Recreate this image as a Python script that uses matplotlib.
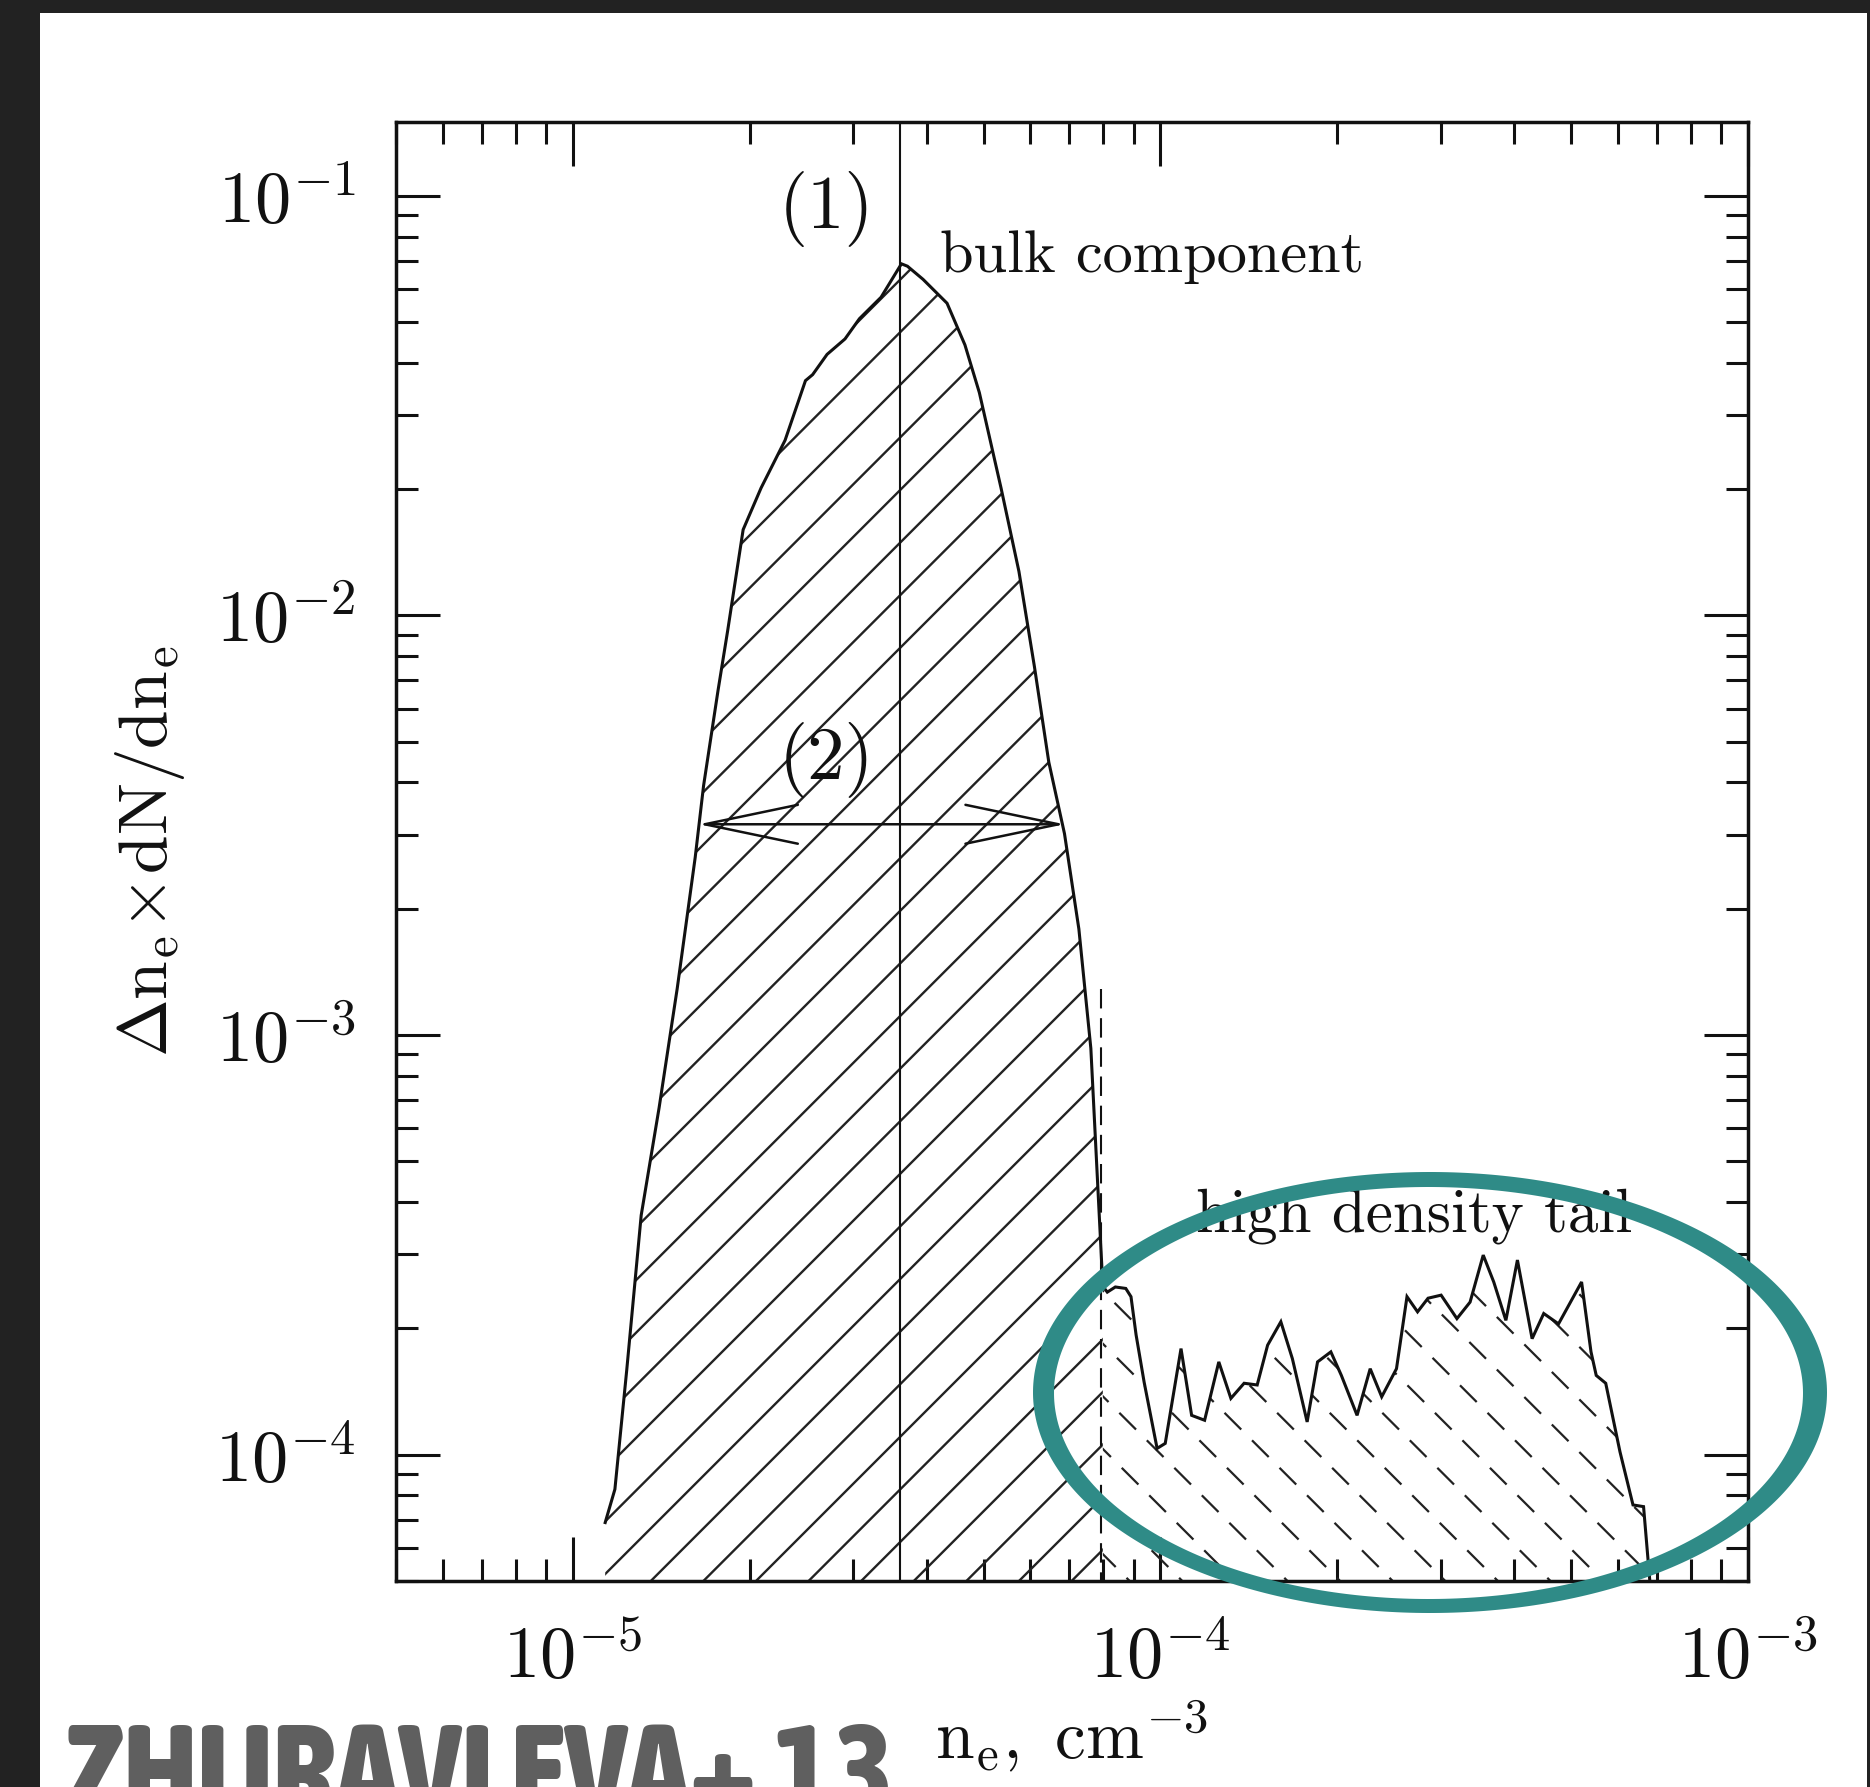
import numpy as np
import matplotlib
matplotlib.use('Agg')
import matplotlib.pyplot as plt
from matplotlib import ticker, font_manager
from matplotlib.lines import Line2D
from matplotlib.patches import Polygon, Rectangle, PathPatch
from matplotlib.path import Path
from matplotlib.transforms import IdentityTransform

plt.rcParams['mathtext.fontset'] = 'cm'
plt.rcParams['lines.scale_dashes'] = False

# bulk component of the electron density PDF
bulk_ne = [1.135e-5, 1.179e-5, 1.235e-5, 1.307e-5, 1.402e-5, 1.505e-5, 1.615e-5,
           1.669e-5, 1.766e-5, 1.834e-5, 1.949e-5, 2.091e-5, 2.297e-5, 2.488e-5,
           2.559e-5, 2.708e-5, 2.905e-5, 3.074e-5, 3.346e-5, 3.624e-5, 3.710e-5,
           3.944e-5, 4.333e-5, 4.648e-5, 4.918e-5, 5.354e-5, 5.743e-5, 6.103e-5,
           6.457e-5, 6.866e-5, 7.264e-5, 7.613e-5, 7.979e-5]
bulk_pdf = [6.89e-5, 8.27e-5, 1.591e-4, 3.72e-4, 6.71e-4, 1.29e-3, 2.65e-3,
            3.93e-3, 6.62e-3, 9.19e-3, 0.01602, 0.02014, 0.02616, 0.03628,
            0.0375, 0.04191, 0.04561, 0.05097, 0.05734, 0.06888, 0.06799,
            0.06326, 0.05549, 0.04414, 0.03398, 0.02014, 0.01274, 7.55e-3,
            4.47e-3, 3.02e-3, 1.79e-3, 9.30e-4, 2.52e-4]

# high density tail
tail_ne = [8.12e-5, 8.38e-5, 8.73e-5, 8.91e-5, 9.09e-5, 9.38e-5, 9.87e-5,
           1.019e-4, 1.084e-4, 1.130e-4, 1.189e-4, 1.257e-4, 1.318e-4, 1.388e-4,
           1.461e-4, 1.522e-4, 1.603e-4, 1.677e-4, 1.777e-4, 1.851e-4, 1.950e-4,
           2.032e-4, 2.161e-4, 2.275e-4, 2.380e-4, 2.522e-4, 2.628e-4, 2.739e-4,
           2.854e-4, 3.004e-4, 3.196e-4, 3.365e-4, 3.543e-4, 3.692e-4, 3.872e-4,
           4.051e-4, 4.291e-4, 4.491e-4, 4.759e-4, 5.209e-4, 5.405e-4, 5.517e-4,
           5.726e-4, 6.055e-4, 6.372e-4, 6.641e-4, 6.85e-4]
tail_pdf = [2.44e-4, 2.51e-4, 2.49e-4, 2.38e-4, 1.93e-4, 1.49e-4, 1.035e-4,
            1.064e-4, 1.79e-4, 1.241e-4, 1.208e-4, 1.664e-4, 1.362e-4, 1.48e-4,
            1.466e-4, 1.824e-4, 2.074e-4, 1.694e-4, 1.197e-4, 1.664e-4, 1.758e-4,
            1.545e-4, 1.241e-4, 1.603e-4, 1.374e-4, 1.603e-4, 2.38e-4, 2.19e-4,
            2.36e-4, 2.40e-4, 2.11e-4, 2.31e-4, 2.99e-4, 2.58e-4, 2.09e-4,
            2.91e-4, 1.89e-4, 2.17e-4, 2.05e-4, 2.58e-4, 1.758e-4, 1.545e-4,
            1.48e-4, 1.016e-4, 7.59e-5, 7.52e-5, 4.5e-5]

peak_ne = 3.6e-5                   # (1) bulk peak
fwhm_lo, fwhm_hi = 1.637e-5, 6.87e-5  # (2) width of the bulk
fwhm_level = 3.18e-3
cut_ne = 7.91e-5                   # bulk / tail separation
cut_top = 1.29e-3

xmin, xmax = 5e-6, 1e-3
ymin, ymax = 5e-5, 0.15

W, H = 1870, 1787
fig = plt.figure(figsize=(W / 100, H / 100), dpi=100)
fig.patch.set_facecolor('#222222')
fig.add_artist(Rectangle((40 / W, 0), (1867 - 40) / W, (H - 13) / H,
                         transform=fig.transFigure, facecolor='white',
                         edgecolor='none', zorder=-10))

ax = fig.add_axes([396 / W, (H - 1581) / H, (1748 - 396) / W, (1581 - 122) / H])
ax.set_facecolor('white')
ax.set_xscale('log')
ax.set_yscale('log')
ax.set_xlim(xmin, xmax)
ax.set_ylim(ymin, ymax)


def hatch(xs, ys, slope, spacing, phase, **kw):
    """draw parallel lines (45 deg, in pixels) clipped to the polygon xs, ys"""
    patch = Polygon(np.column_stack([xs, ys]), closed=True, fill=False,
                    edgecolor='none', transform=ax.transData)
    ax.add_patch(patch)
    n = int((W + H) / spacing) + 2
    for k in range(-n, n + 1):
        c = phase + k * spacing
        if slope > 0:
            px, py = [c, c + H], [0, H]
        else:
            px, py = [c, c - H], [0, H]
        ln = Line2D(px, py, transform=IdentityTransform(), **kw)
        ln.set_clip_path(patch)
        ax.add_artist(ln)


bx = list(bulk_ne) + [bulk_ne[-1], bulk_ne[0]]
by = list(bulk_pdf) + [ymin, ymin]
hatch(bx, by, +1, 52.6, 24, color='#222222', lw=1.7)

tx = [bulk_ne[-1]] + list(tail_ne) + [tail_ne[-1], bulk_ne[-1]]
ty = [bulk_pdf[-1]] + list(tail_pdf) + [ymin, ymin]
hatch(tx, ty, -1, 52.6, 20.7, color='#222222', lw=1.6, ls=(0, (17, 11)))

ax.plot(bulk_ne + tail_ne, bulk_pdf + tail_pdf, color='#111111', lw=2.2,
        solid_joinstyle='miter', zorder=3)
ax.axvline(peak_ne, color='#111111', lw=1.5, zorder=3)
ax.plot([cut_ne, cut_ne], [cut_top, ymin], color='#111111', lw=1.5,
        ls=(0, (14, 7)), zorder=3)
ax.annotate('', xy=(fwhm_lo, fwhm_level), xytext=(fwhm_hi, fwhm_level),
            arrowprops=dict(arrowstyle='<->,head_length=67,head_width=14',
                            mutation_scale=1, lw=1.8, color='#111111',
                            shrinkA=0, shrinkB=0), zorder=4)

txt = dict(family='cmr10', color='#111111')
fig.text(826 / W, 1 - 209 / H, '(1)', fontsize=54, ha='center', va='center', **txt)
fig.text(826 / W, 1 - 760 / H, '(2)', fontsize=54, ha='center', va='center', **txt)
fig.text(940 / W, 1 - 272 / H, 'bulk component', fontsize=43.5, ha='left',
         va='baseline', **txt)
fig.text(1196 / W, 1 - 1232 / H, 'high density tail', fontsize=44, ha='left',
         va='baseline', **txt)

# axes styling
fmt = ticker.FuncFormatter(lambda v, p: r'$10^{%d}$' % int(round(np.log10(v))))
for axis in (ax.xaxis, ax.yaxis):
    axis.set_major_locator(ticker.LogLocator(base=10, numticks=20))
    axis.set_minor_locator(ticker.LogLocator(base=10, subs=np.arange(2, 10), numticks=20))
    axis.set_major_formatter(fmt)
    axis.set_minor_formatter(ticker.NullFormatter())
ax.tick_params(which='both', direction='in', top=True, right=True,
               width=2.2, color='#111111', labelcolor='#111111')
ax.tick_params(which='major', length=32, labelsize=52)
ax.tick_params(which='minor', length=16)
ax.tick_params(axis='x', which='major', pad=31)
ax.tick_params(axis='y', which='major', pad=29)
for s in ax.spines.values():
    s.set_linewidth(2.5)
    s.set_color('#111111')

ax.set_xlabel(r'$\mathrm{n}_\mathrm{e},\ \mathrm{cm}^{-3}$', fontsize=50, color='#111111')
ax.xaxis.set_label_coords(0.5, -0.080)
ax.set_ylabel(r'$\Delta\mathrm{n}_\mathrm{e}\!\times\!\mathrm{dN/dn}_\mathrm{e}$',
              fontsize=50, color='#111111')
ax.yaxis.set_label_coords(-0.1546, 0.5)

# highlight ring around the tail
t = np.linspace(0, 2 * np.pi, 400)
outer = np.column_stack([1430 + 397 * np.cos(t), H - 1392.5 + 220.5 * np.sin(t)])
inner = np.column_stack([1428.5 + 374.5 * np.cos(-t), H - 1393 + 206 * np.sin(-t)])
verts = np.vstack([outer, inner]) / [W, H]
codes = np.full(len(verts), Path.LINETO)
codes[0] = codes[len(t)] = Path.MOVETO
ring = PathPatch(Path(verts, codes), transform=fig.transFigure,
                 facecolor='#2f8b87', edgecolor='none', zorder=10)
fig.add_artist(ring)


# credit line: prefer a condensed bold face, then fit it to its width
def pick_condensed():
    best = None
    for f in font_manager.fontManager.ttflist:
        name = f.name.lower()
        stretch = str(f.stretch).lower()
        narrow = ('condensed' in stretch or 'narrow' in name or 'condensed' in name
                  or (stretch.isdigit() and int(stretch) < 500))
        if not narrow:
            continue
        w = f.weight if isinstance(f.weight, int) else (700 if 'bold' in str(f.weight) else 400)
        score = abs(w - 800)
        if best is None or score < best[0]:
            best = (score, f.fname)
    if best is None:
        return font_manager.FontProperties(family='DejaVu Sans', weight='bold')
    return font_manager.FontProperties(fname=best[1])


credit = fig.text(66 / W, -28 / H, 'ZHURAVLEVA+ 13', fontproperties=pick_condensed(),
                  fontsize=82.6, color='#5f5f5f', ha='left', va='baseline', zorder=11)
fig.canvas.draw()
width = credit.get_window_extent().width
credit.set_fontsize(82.6 * 828 / width)

fig.savefig('out.png', dpi=100, facecolor=fig.get_facecolor())
